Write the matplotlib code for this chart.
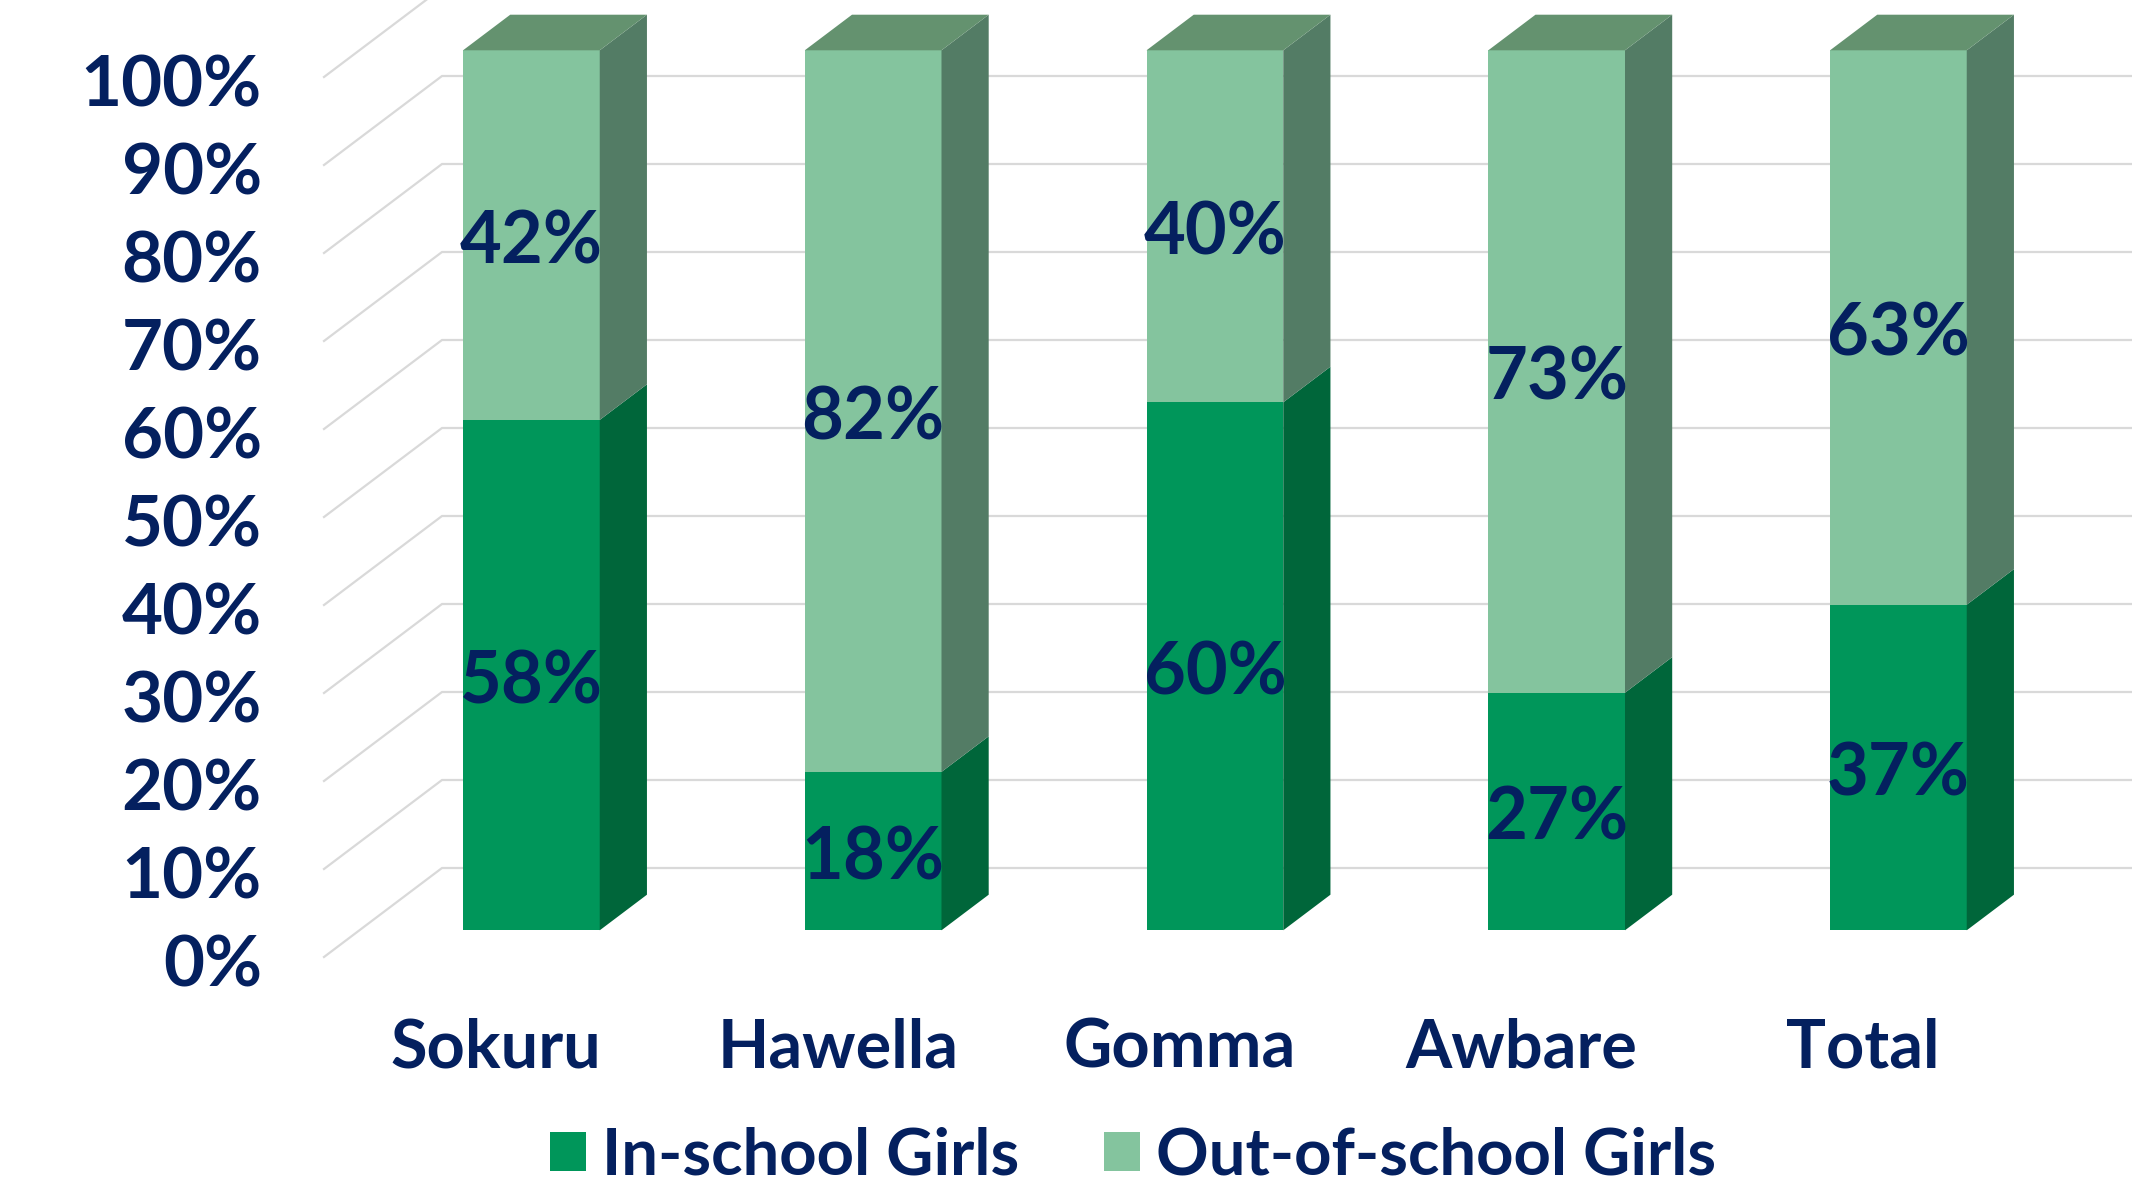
import matplotlib
matplotlib.use("Agg")
import matplotlib.pyplot as plt
from matplotlib.patches import Polygon, Patch

# data
categories = ["Sokuru", "Hawella", "Gomma", "Awbare", "Total"]
in_school = [58, 18, 60, 27, 37]
out_school = [42, 82, 40, 73, 63]
series_names = ["In-school Girls", "Out-of-school Girls"]
yticks = list(range(0, 101, 10))

# colours (front, side, top)
col_in = ("#00965A", "#00663A", "#3F8A62")
col_out = ("#84C49E", "#537C65", "#64926F")
txt = "#04205F"
grid = "#D9D9D9"

plt.rcParams['font.family'] = ['Lato', 'DejaVu Sans']

W, H = 2132, 1182
fig = plt.figure(figsize=(W / 100, H / 100), dpi=100)
# front plane of the 3D box in pixels: left 324, 0% at 957, 100% at 77
ax = fig.add_axes([324 / W, 1 - 957 / H, (W - 324) / W, 880 / H])
cat_px = 341.75
x_left = (324 - 496) / cat_px
ax.set_xlim(x_left, x_left + (W - 324) / cat_px)
ax.set_ylim(0, 100)
ax.axis('off')

DX = 118 / cat_px   # full depth of the box in category units
DY = 89 / 8.8       # full depth of the box in % units
d0, d1 = 0.3, 0.7   # bar depth range
bw = 0.2            # half bar width

# gridlines: left wall diagonal + back wall
for v in yticks:
    ax.plot([x_left, x_left + DX, 10], [v, v + DY, v + DY], color=grid, lw=1.6,
            clip_on=False, zorder=1, solid_joinstyle='miter')

def box(x, y0, y1, cols, top):
    xl = x + d0 * DX - bw
    xr = x + d0 * DX + bw
    yb = y0 + d0 * DY
    yt = y1 + d0 * DY
    ddx, ddy = (d1 - d0) * DX, (d1 - d0) * DY
    ax.add_patch(Polygon([(xl, yb), (xr, yb), (xr, yt), (xl, yt)], closed=True,
                         fc=cols[0], ec='none', clip_on=False, zorder=3))
    ax.add_patch(Polygon([(xr, yb), (xr + ddx, yb + ddy), (xr + ddx, yt + ddy), (xr, yt)],
                         closed=True, fc=cols[1], ec='none', clip_on=False, zorder=3))
    if top:
        ax.add_patch(Polygon([(xl, yt), (xl + ddx, yt + ddy), (xr + ddx, yt + ddy), (xr, yt)],
                             closed=True, fc=cols[2], ec='none', clip_on=False, zorder=3))

for i, (a, b) in enumerate(zip(in_school, out_school)):
    box(i, 0, a, col_in, False)
    box(i, a, a + b, col_out, True)
    xc = i + d0 * DX
    ax.text(xc, a / 2 + d0 * DY - 0.9, f"{a}%", ha='center', va='center', fontsize=52,
            fontweight='bold', color=txt, zorder=5)
    ax.text(xc, a + b / 2 + d0 * DY - 0.9, f"{b}%", ha='center', va='center', fontsize=52,
            fontweight='bold', color=txt, zorder=5)
    ax.text(i, -12.5, categories[i], ha='center', va='baseline', fontsize=48,
            fontweight='bold', color=txt, clip_on=False)

# y tick labels
for v in yticks:
    ax.text((262 - 496) / cat_px, v - 3.3, f"{v}%", ha='right', va='baseline',
            fontsize=51, fontweight='bold', color=txt, clip_on=False)

handles = [Patch(fc=col_in[0], ec='none'), Patch(fc=col_out[0], ec='none')]
leg = fig.legend(handles, series_names, loc='center', bbox_to_anchor=(1133 / W, 1 - 1156 / H),
                 ncol=2, frameon=False, fontsize=47, handlelength=0.55, handleheight=0.55,
                 handletextpad=0.25, columnspacing=1.3)
for t in leg.get_texts():
    t.set_color(txt)
    t.set_fontweight('bold')

fig.savefig("out.png", dpi=100)
